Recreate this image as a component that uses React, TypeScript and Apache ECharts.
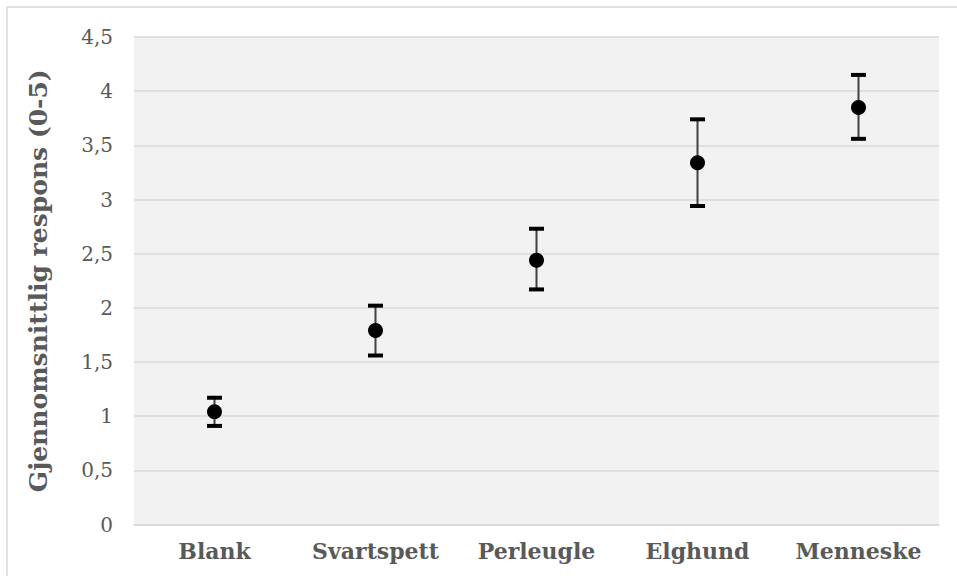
import React, { useEffect, useRef } from "react";
import * as echarts from "echarts";

const categories = ["Blank", "Svartspett", "Perleugle", "Elghund", "Menneske"];
const means = [1.04, 1.79, 2.44, 3.34, 3.85];
const lowers = [0.91, 1.56, 2.17, 2.94, 3.56];
const uppers = [1.17, 2.02, 2.73, 3.74, 4.15];
const yTicks = [0, 0.5, 1, 1.5, 2, 2.5, 3, 3.5, 4, 4.5];

const FONT = "DejaVu Serif";

export default function App() {
  const ref = useRef<HTMLDivElement>(null);
  useEffect(() => {
    document.body.style.margin = "0";
    const chart = echarts.init(ref.current!, null, { renderer: "svg" });
    const errData = categories.map((_, i) => [i, lowers[i], uppers[i]]);
    chart.setOption({
      animation: false,
      backgroundColor: "#ffffff",
      graphic: [
        {
          type: "rect",
          shape: { x: 7, y: 7, width: 970, height: 590 },
          style: { fill: "none", stroke: "#d9d9d9", lineWidth: 1.5 },
          silent: true,
        },
      ],
      grid: {
        left: 134,
        right: 18,
        top: 37,
        bottom: 51.5,
        show: true,
        backgroundColor: "#f2f2f2",
        borderWidth: 0,
      },
      xAxis: {
        type: "category",
        data: categories,
        boundaryGap: true,
        axisLine: { show: true, lineStyle: { color: "#d9d9d9", width: 1.5 } },
        axisTick: { show: false },
        axisLabel: {
          interval: 0,
          hideOverlap: false,
          margin: 15,
          color: "#595959",
          fontFamily: FONT,
          fontWeight: "bold",
          fontSize: 22,
        },
      },
      yAxis: {
        type: "value",
        min: 0,
        max: 4.5,
        interval: 0.5,
        name: "Gjennomsnittlig respons (0-5)",
        nameLocation: "middle",
        nameGap: 83,
        nameTextStyle: {
          color: "#595959",
          fontFamily: FONT,
          fontWeight: "bold",
          fontSize: 25,
        },
        axisLine: { show: false },
        axisTick: { show: false },
        splitLine: { lineStyle: { color: "#d9d9d9", width: 1.5 } },
        axisLabel: {
          margin: 21,
          color: "#595959",
          fontFamily: FONT,
          fontSize: 20,
          formatter: (v: number) =>
            yTicks.includes(v) ? String(v).replace(".", ",") : "",
        },
      },
      series: [
        {
          type: "custom",
          data: errData,
          z: 2,
          renderItem: (params: any, api: any) => {
            const x = api.value(0);
            const lo = api.coord([x, api.value(1)]);
            const hi = api.coord([x, api.value(2)]);
            const half = 7.5;
            return {
              type: "group",
              children: [
                {
                  type: "line",
                  shape: { x1: lo[0], y1: lo[1], x2: hi[0], y2: hi[1] },
                  style: { stroke: "#404040", lineWidth: 2 },
                },
                {
                  type: "line",
                  shape: { x1: lo[0] - half, y1: lo[1], x2: lo[0] + half, y2: lo[1] },
                  style: { stroke: "#000000", lineWidth: 4 },
                },
                {
                  type: "line",
                  shape: { x1: hi[0] - half, y1: hi[1], x2: hi[0] + half, y2: hi[1] },
                  style: { stroke: "#000000", lineWidth: 4 },
                },
              ],
            };
          },
        },
        {
          type: "scatter",
          data: means,
          symbol: "circle",
          symbolSize: 15,
          z: 3,
          itemStyle: { color: "#000000", opacity: 1 },
        },
      ],
    });
    return () => chart.dispose();
  }, []);
  return <div ref={ref} style={{ width: 957, height: 576 }} />;
}
